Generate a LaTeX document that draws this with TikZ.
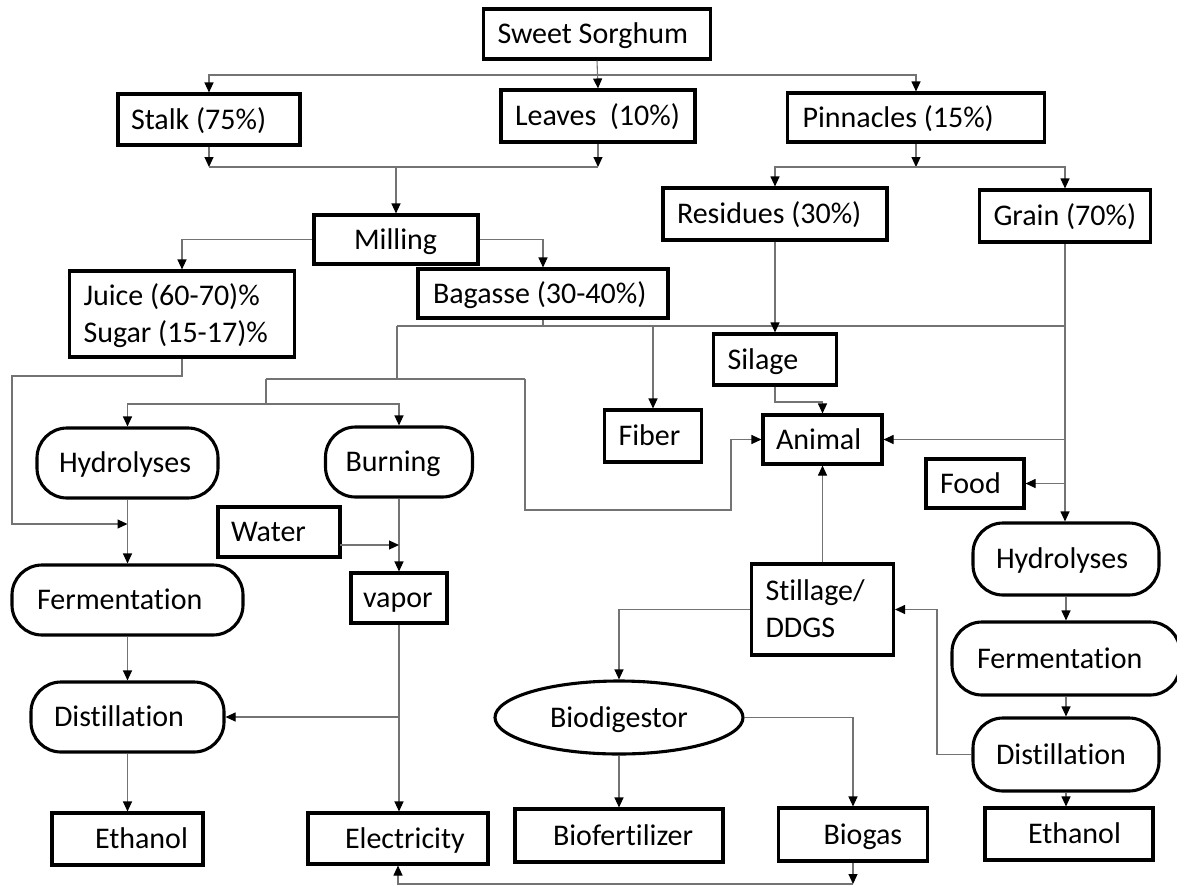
\documentclass[tikz,border=0pt]{standalone}
\usepackage{fontspec}
\setmainfont{Carlito}[Ligatures=NoCommon]
\usetikzlibrary{arrows.meta,shapes.geometric,calc}

% text set in a box of given width with a left indent
\newcommand\padtext[3]{\makebox[#1pt][l]{\hspace*{#2pt}#3}}

\tikzset{
  box/.style={draw, line width=3.1pt, inner xsep=0pt, inner ysep=0pt,
              text height=19.3pt, text depth=0pt},
  rbox/.style={box, rounded corners=30pt},
  ebox/.style={box, ellipse},
  link/.style={draw=black!55, line width=1.1pt},
  arr/.style={link, -{Triangle[length=10pt,width=9pt,black]}},
  arrs/.style={link, {Triangle[length=10pt,width=9pt,black]}-},
  arrb/.style={link, {Triangle[length=10pt,width=9pt,black]}-{Triangle[length=10pt,width=9pt,black]}}
}

\begin{document}
\begin{tikzpicture}[x=1pt, y=-1pt, font=\fontsize{30}{37}\selectfont]
\fill[white] (0,0) rectangle (1177,886);
\useasboundingbox (0,0) rectangle (1177,886);

% ---- rectangular boxes
\node[box, minimum height=50pt] (ss)     at (597,34)     {\padtext{227}{14}{Sweet Sorghum}};
\node[box, minimum height=51pt] (stalk)  at (209,119.5)  {\padtext{182}{13}{Stalk (75\%)}};
\node[box, minimum height=52pt] (leaves) at (598,116)    {\padtext{194}{14}{Leaves\ \ (10\%)}};
\node[box, minimum height=49pt] (pinn)   at (916,117.5)  {\padtext{257}{15}{Pinnacles (15\%)}};
\node[box, minimum height=52pt] (resid)  at (775,214)    {\padtext{224}{14}{Residues (30\%)}};
\node[box, minimum height=52pt] (grain)  at (1065,216)   {\padtext{171}{14}{Grain (70\%)}};
\node[box, minimum height=49pt] (mill)   at (396,239.5)  {\padtext{164}{40}{Milling}};
\node[box, minimum height=49pt] (bag)    at (543,293.5)  {\padtext{250}{15}{Bagasse (30-40\%)}};
\node[box, minimum height=86pt, text depth=37pt] (juice) at (182,314)
  {\padtext{225}{14}{\begin{tabular}[t]{@{}l@{}}Juice (60-70)\%\\Sugar (15-17)\%\end{tabular}}};
\node[box, minimum height=51pt] (silage) at (775,359.5)  {\padtext{123}{14}{Silage}};
\node[box, minimum height=52pt] (fiber)  at (653,436)    {\padtext{97}{14}{Fiber}};
\node[box, minimum height=49pt] (animal) at (822.5,439.5){\padtext{119}{13}{Animal}};
\node[box, minimum height=49pt] (food)   at (975,483.5)  {\padtext{98}{14}{Food}};
\node[box, minimum height=50pt] (water)  at (279,532)    {\padtext{122}{13}{Water}};
\node[box, minimum height=50pt] (vapor)  at (399,598)    {\padtext{96}{12}{vapor}};
\node[box, minimum height=91pt, text depth=37pt] (still) at (822.5,609.5)
  {\padtext{142}{14}{\begin{tabular}[t]{@{}l@{}}Stillage/\\DDGS\end{tabular}}};
\node[box, minimum height=52pt] (eth1)   at (127.5,839)  {\padtext{151}{43}{Ethanol}};
\node[box, minimum height=51pt] (elec)   at (398,838.5)  {\padtext{180}{37}{Electricity}};
\node[box, minimum height=53pt] (biof)   at (619,835.5)  {\padtext{208}{38}{Biofertilizer}};
\node[box, minimum height=53pt] (biogas) at (853,834.5)  {\padtext{149}{45}{Biogas}};
\node[box, minimum height=52pt] (eth2)   at (1069,834)   {\padtext{168}{43}{Ethanol}};

% ---- process steps (rounded)
\node[rbox, minimum height=70pt] (hyd1)  at (127.5,463)  {\padtext{181}{22}{Hydrolyses}};
\node[rbox, minimum height=70pt] (burn)  at (399,462)    {\padtext{147}{20}{Burning}};
\node[rbox, minimum height=70pt] (ferm1) at (127.5,600)  {\padtext{231}{25}{Fermentation}};
\node[rbox, minimum height=70pt] (dist1) at (127.5,717)  {\padtext{193}{23}{Distillation}};
\node[rbox, minimum height=72pt] (hyd2)  at (1066,559)   {\padtext{186}{23}{Hydrolyses}};
\node[rbox, minimum height=73pt] (ferm2) at (1066,658.5) {\padtext{228}{25}{Fermentation}};
\node[rbox, minimum height=73pt] (dist2) at (1066,754.5) {\padtext{186}{23}{Distillation}};

% ---- digester
\node[ebox, minimum width=248pt, minimum height=73pt] (bio) at (619,717.5) {Biodigestor};

% ---- junction points of the connectors
\coordinate (top)   at (598,75);
\coordinate (merge) at (396,167);
\coordinate (split) at (916,167);
\coordinate (bus)   at (397,326);
\coordinate (busA)  at (397,379);
\coordinate (busB)  at (266,379);
\coordinate (busC)  at (525,379);
\coordinate (busD)  at (266,404);
\coordinate (loopA) at (525,510);
\coordinate (loopB) at (731,510);
\coordinate (jA)    at (182,376);
\coordinate (jB)    at (12,376);
\coordinate (jC)    at (12,524);
\coordinate (jD)    at (127.5,524);
\coordinate (wat)   at (340,545);
\coordinate (sil)   at (775,402);
\coordinate (base)  at (398,884);
\coordinate (ret)   at (937,754.5);

% Sweet Sorghum into its three parts
\draw[arr]  (ss.south) -- (leaves.north);
\draw[arrb] (stalk.north) -- (stalk.north |- top) -- (pinn.north |- top) -- (pinn.north);

% stalk and leaves to milling
\draw[arr]  (stalk.south) -- (stalk.south |- merge);
\draw[arr]  (leaves.south) -- (leaves.south |- merge);
\draw[link] (stalk.south |- merge) -- (leaves.south |- merge);
\draw[arr]  (merge) -- (merge |- mill.north);

% pinnacles into residues and grain
\draw[arr]  (pinn.south) -- (split);
\draw[arrb] (resid.north) -- (resid.north |- split) -- (grain.north |- split) -- (grain.north);

% milling outputs
\draw[arr] (mill.west) -| (juice.north);
\draw[arr] (mill.east) -| (bag.north);

% bagasse / grain distribution line
\draw[link] (bag.south) -- (bag.south |- bus);
\draw[link] (bus) -- (grain.south |- bus);
\draw[arr]  (fiber.north |- bus) -- (fiber.north);
\draw[arr]  (grain.south) -- (grain.south |- hyd2.north);
\draw[arr]  (resid.south) -- (silage.north);
\draw[link] (bus) -- (busA);
\draw[link] (busB) -- (busC);
\draw[arr]  (busC) -- (loopA) -- (loopB) -- (loopB |- animal.west) -- (animal.west);
\draw[link] (busB) -- (busD);
\draw[arrb] (hyd1.north) -- (hyd1.north |- busD) -- (burn.north |- busD) -- (burn.north);

% juice route
\draw[arr] (juice.south) -- (jA) -- (jB) -- (jC) -- (jD);

% left ethanol line
\draw[arr] (hyd1.south) -- (ferm1.north);
\draw[arr] (ferm1.south) -- (dist1.north);
\draw[arr] (dist1.south) -- (eth1.north);

% steam and power
\draw[arr] (burn.south) -- (vapor.north);
\draw[arr] (wat) -- (wat -| vapor.north);
\draw[arr] (vapor.south) -- (vapor.south |- elec.north);
\draw[arr] (vapor.south |- dist1.east) -- (dist1.east);

% electricity and biogas
\draw[arrs] (elec.south) -- (base) -- (base -| biogas.south);
\draw[arr]  (biogas.south) -- (base -| biogas.south);

% animal feed
\draw[arr] (silage.south) -- (sil) -- (sil -| animal.north) -- (animal.north);
\draw[arr] (still.north) -- (animal.south);
\draw[arr] (grain.south |- animal.east) -- (animal.east);
\draw[arr] (grain.south |- food.east) -- (food.east);

% stillage and digester
\draw[arr] (still.west) -| (bio.north);
\draw[arr] (bio.east) -| (biogas.north);
\draw[arr] (bio.south) -- (biof.north);

% right ethanol line
\draw[arr] (hyd2.south) -- (ferm2.north);
\draw[arr] (ferm2.south) -- (dist2.north);
\draw[arr] (dist2.south) -- (dist2.south |- eth2.north);
\draw[arr] (dist2.west) -- (ret) -- (ret |- still.east) -- (still.east);
\end{tikzpicture}
\end{document}
